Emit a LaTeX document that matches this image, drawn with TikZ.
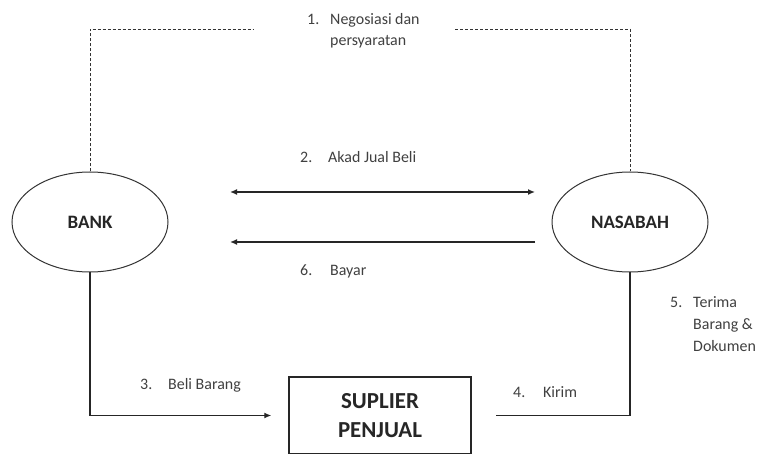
\documentclass[tikz,border=0pt]{standalone}
\usepackage{fontspec}
\setmainfont{Carlito}
\usetikzlibrary{shapes.geometric,arrows.meta}
\tikzset{
  ent/.style={ellipse, draw=black!80, line width=1bp, minimum width=156bp, minimum height=100bp, inner sep=0pt, font=\fontsize{19}{22}\selectfont\bfseries, text=black!85},
  supbox/.style={draw=black!85, line width=1.4bp, minimum width=182bp, minimum height=77bp, inner sep=0pt, align=center, font=\fontsize{23}{29}\selectfont\bfseries, text=black!85},
  lbl/.style={anchor=base west, inner sep=0pt, font=\fontsize{16}{19}\selectfont, text=black!75},
  dsh/.style={line width=0.8bp, draw=black!80, dash pattern=on 3bp off 2bp},
  sol/.style={line width=1.3bp, draw=black!85},
  tip/.tip={Latex[length=7bp,width=6bp]}
}
\begin{document}
\begin{tikzpicture}[x=1bp,y=-1bp]
\useasboundingbox (0,0) rectangle (769,454);
\fill[white] (0,0) rectangle (769,454);

\node[ent] (bank) at (90,222) {BANK};
\node[ent] (nas) at (630,222) {NASABAH};
\node[supbox] (sup) at (380,415.5) {SUPLIER\\PENJUAL};

\coordinate (dl) at (253,29);
\coordinate (dr) at (455,29);
\coordinate (a2l) at (230,192);
\coordinate (a2r) at (535,192);
\coordinate (a6l) at (230,242);
\coordinate (a6r) at (535,242);

\draw[dsh] (bank.north) |- (dl);
\draw[dsh] (dr) -| (nas.north);
\draw[sol,tip-tip] (a2l) -- (a2r);
\draw[sol,-tip] (a6r) -- (a6l);
\draw[sol,-tip] (bank.south) |- ([xshift=-17bp]sup.west);
\draw[sol] (nas.south) |- ([xshift=24bp]sup.east);

\node[lbl] (n1) at (307,25) {1.};
\node[lbl] (t1a) at (330,25) {Negosiasi dan};
\node[lbl] (t1b) at (330,46) {persyaratan};
\node[lbl] (n2) at (300,163) {2.};
\node[lbl] (t2) at (328,163) {Akad Jual Beli};
\node[lbl] (n6) at (300,276) {6.};
\node[lbl] (t6) at (330,276) {Bayar};
\node[lbl] (n3) at (140,389) {3.};
\node[lbl] (t3) at (168,389) {Beli Barang};
\node[lbl] (n4) at (513,397) {4.};
\node[lbl] (t4) at (543,397) {Kirim};
\node[lbl] (n5) at (670,308) {5.};
\node[lbl] (t5a) at (693,308) {Terima};
\node[lbl] (t5b) at (693,330) {Barang \&};
\node[lbl] (t5c) at (693,352) {Dokumen};
\end{tikzpicture}
\end{document}
